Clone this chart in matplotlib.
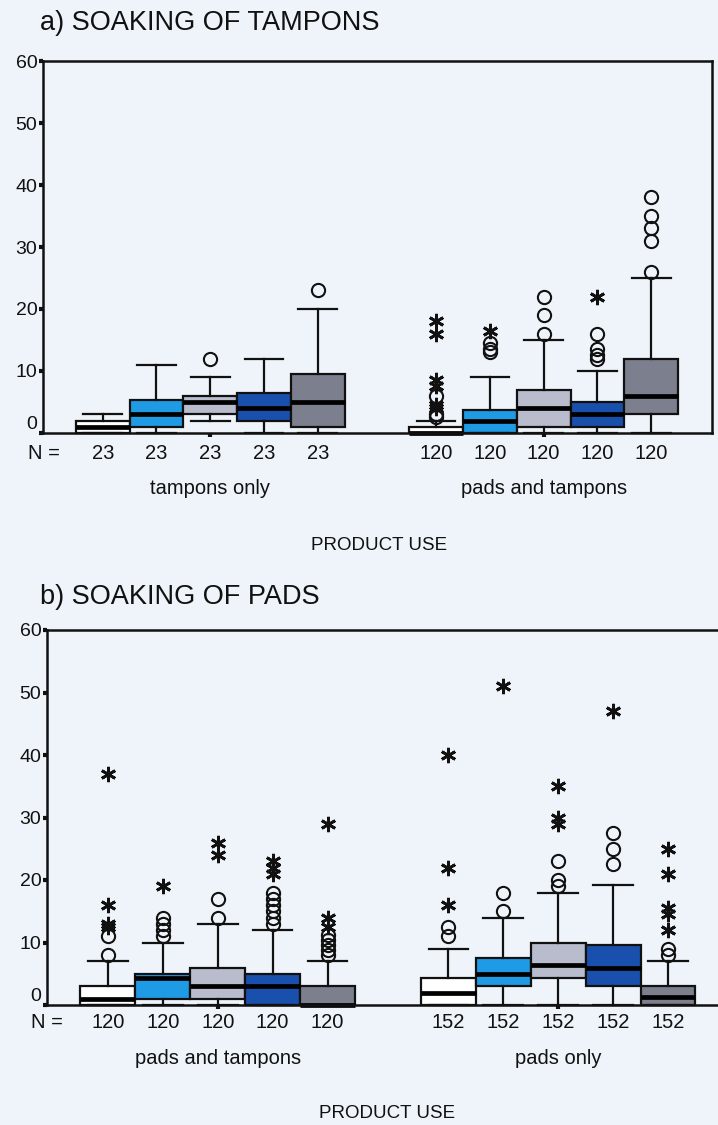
import matplotlib
matplotlib.use("Agg")
import matplotlib.pyplot as plt
import matplotlib.transforms as mtransforms

plt.rcParams['font.family'] = ['Liberation Sans', 'DejaVu Sans']

# ---- data -------------------------------------------------------------
box_colors = ['#ffffff', '#1f9be6', '#b8bccd', '#1a50ad', '#7c7f8d']

# a) soaking of tampons
a_groups = ['tampons only', 'pads and tampons']
a_n = [23, 120]
a_q1 = [[0, 1, 3, 2, 1], [0, 0, 1, 1, 3]]
a_med = [[1, 3, 5, 4, 5], [0, 2, 4, 3, 6]]
a_q3 = [[2, 5.3, 6, 6.4, 9.5], [1, 3.7, 7, 5, 12]]
a_lo = [[0, 0, 2, 0, 0], [0, 0, 0, 0, 0]]
a_hi = [[3, 11, 9, 12, 20], [2, 9, 15, 10, 25]]
a_circles = [[[], [], [12], [], [23]],
             [[6, 3, 2.5], [14.5, 13.5, 13], [22, 19, 16], [16, 13.5, 12.5, 12],
              [38, 35, 33, 31, 26]]]
a_stars = [[[], [], [], [], []],
           [[18, 16, 8.5, 7.5, 4.5, 4], [16.5], [], [22], []]]

# b) soaking of pads
b_groups = ['pads and tampons', 'pads only']
b_n = [120, 152]
b_q1 = [[0, 1, 1, 0, 0], [0, 3, 4.3, 3, 0]]
b_med = [[1, 4.3, 3, 3, 0], [2, 5, 6.4, 6, 1.3]]
b_q3 = [[3, 5, 6, 5, 3], [4.3, 7.5, 10, 9.6, 3]]
b_lo = [[0, 0, 0, 0, 0], [0, 0, 0, 0, 0]]
b_hi = [[7, 10, 13, 12, 7], [9, 14, 18, 19.2, 7]]
b_circles = [[[8, 11], [11, 12, 13, 14], [14, 17], [13, 14, 15, 16, 17, 18],
              [8, 8.8, 9.6, 10.4, 11.2]],
             [[11, 12.5], [15, 18], [19, 20, 23], [22.5, 25, 27.5], [8, 9]]]
b_stars = [[[12.5, 13, 16, 37], [19], [24, 26], [21, 22, 23], [12.5, 14, 29]],
           [[16, 22, 40], [51], [29, 30, 35], [47], [12, 14.5, 15.5, 21, 25]]]

y_ticks = [0, 10, 20, 30, 40, 50, 60]

# ---- figure -----------------------------------------------------------
W, H = 718, 1125
BG = '#eef4f9'
INK = '#111111'
fig = plt.figure(figsize=(W / 100, H / 100), dpi=100, facecolor=BG)

GROUP_STEP = 6.2
FS = 14.5


def fy(px):
    return 1 - px / H


def panel(rect, title, title_y, groups, ns, q1, med, q3, lo, hi, circles, stars,
          n_y, grp_y, xlabel_y, xlabel_x, nlab_x, show_right):
    ax = fig.add_axes(rect)
    ax.set_facecolor(BG)
    ax.set_xlim(-0.11, 12.33)
    ax.set_ylim(0, 60)
    for side in ['left', 'top', 'bottom', 'right']:
        ax.spines[side].set_linewidth(1.8)
        ax.spines[side].set_color(INK)
    ax.spines['right'].set_visible(show_right)

    blend = mtransforms.blended_transform_factory(ax.transData, fig.transFigure)
    centers = []
    for g in range(len(groups)):
        pos = [g * GROUP_STEP + k + 1 for k in range(5)]
        centers.append(pos[2])
        stats = [dict(med=med[g][k], q1=q1[g][k], q3=q3[g][k],
                      whislo=lo[g][k], whishi=hi[g][k], fliers=[])
                 for k in range(5)]
        art = ax.bxp(stats, positions=pos, widths=1.0, patch_artist=True,
                     showfliers=False, capwidths=0.72, manage_ticks=False,
                     boxprops=dict(linewidth=1.6, edgecolor=INK),
                     medianprops=dict(color='black', linewidth=3.4,
                                      solid_capstyle='butt'),
                     whiskerprops=dict(linewidth=1.6, color=INK),
                     capprops=dict(linewidth=1.6, color=INK))
        for patch, c in zip(art['boxes'], box_colors):
            patch.set_facecolor(c)
            patch.set_clip_on(False)
        for key in ['medians', 'whiskers', 'caps']:
            for ln in art[key]:
                ln.set_clip_on(False)
        for k in range(5):
            if circles[g][k]:
                ax.plot([pos[k]] * len(circles[g][k]), circles[g][k], linestyle='none',
                        marker='o', ms=9.5, mfc='none', mec=INK, mew=1.5,
                        clip_on=False, zorder=4)
            if stars[g][k]:
                ax.plot([pos[k]] * len(stars[g][k]), stars[g][k], linestyle='none',
                        marker=(6, 2, 0), ms=11, mec=INK, mew=2.0,
                        clip_on=False, zorder=4)
            ax.text(pos[k], fy(n_y), str(ns[g]), transform=blend,
                    ha='center', va='center', fontsize=FS, color=INK)
        ax.text(pos[2], fy(grp_y), groups[g], transform=blend,
                ha='center', va='center', fontsize=FS, color=INK)

    ax.set_xticks(centers)
    ax.set_xticklabels([])
    ax.tick_params(axis='x', direction='out', length=3, width=3, color=INK)
    ax.set_yticks(y_ticks)
    ax.set_yticklabels([str(t) for t in y_ticks], fontsize=14, color=INK)
    ax.tick_params(axis='y', direction='out', length=3, width=3, pad=1,
                   color=INK)
    ax.get_yticklabels()[0].set_verticalalignment('bottom')

    fig.text(nlab_x / W, fy(n_y), 'N =', ha='center', va='center',
             fontsize=FS, color=INK)
    fig.text(xlabel_x / W, fy(xlabel_y), 'PRODUCT USE', ha='center', va='center',
             fontsize=13.5, color=INK)
    fig.text(40 / W, fy(title_y), title, ha='left', va='center',
             fontsize=19.5, color=INK)
    return ax


panel([43 / W, fy(433), (712 - 43) / W, 372 / H], 'a) SOAKING OF TAMPONS', 23,
      a_groups, a_n, a_q1, a_med, a_q3, a_lo, a_hi, a_circles, a_stars,
      n_y=453, grp_y=488, xlabel_y=545, xlabel_x=379, nlab_x=44, show_right=True)

panel([47 / W, fy(1005), 683 / W, 375 / H], 'b) SOAKING OF PADS', 597,
      b_groups, b_n, b_q1, b_med, b_q3, b_lo, b_hi, b_circles, b_stars,
      n_y=1023, grp_y=1058, xlabel_y=1113, xlabel_x=387, nlab_x=47, show_right=False)

fig.savefig('out.png', dpi=100, facecolor=BG)
